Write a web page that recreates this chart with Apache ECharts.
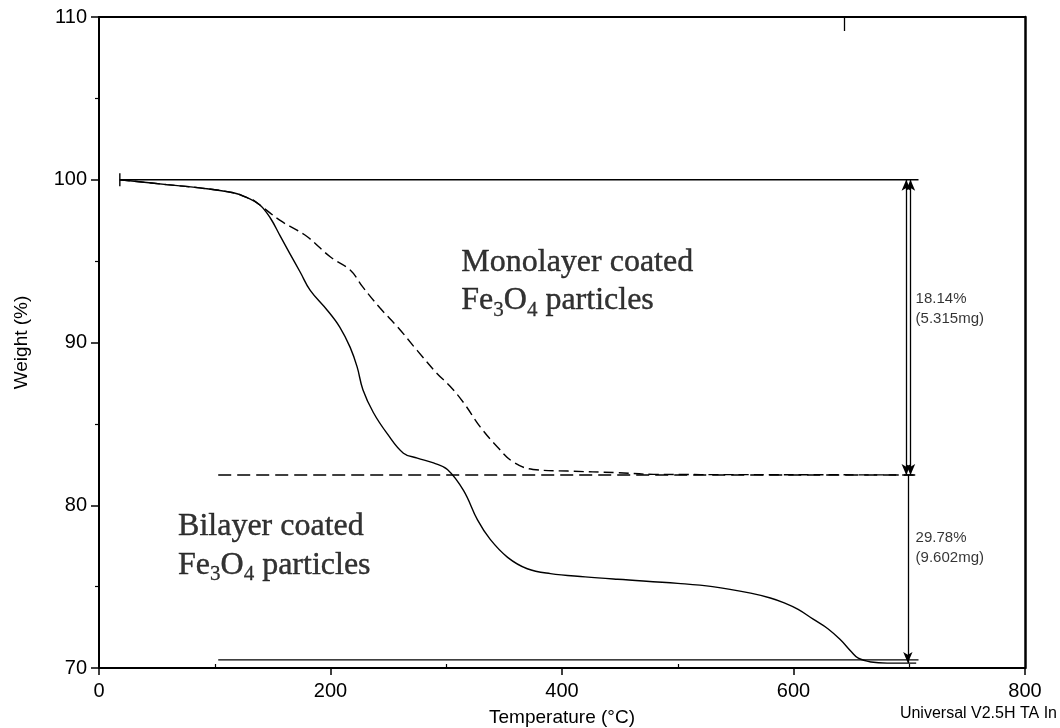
<!DOCTYPE html>
<html>
<head>
<meta charset="utf-8">
<script src="https://cdn.jsdelivr.net/npm/echarts@6/dist/echarts.min.js"></script>
<style>html,body{margin:0;padding:0;background:#fff;}#c{width:1060px;height:728px;}</style>
</head>
<body>
<div id="c"></div>
<script>
// Bilayer coated Fe3O4 (solid)
var bilayerT = [18, 58.5, 87, 116, 128, 139, 148, 156.5, 165, 174, 182.5, 197, 208, 217, 223, 228, 237, 249, 263, 275, 289, 301, 315, 327, 338, 353, 370, 390, 420, 448, 500, 530, 563, 580, 592, 604, 617, 630, 641, 650, 656, 667, 681, 706];
var bilayerW = [100, 99.7, 99.5, 99.2, 98.9, 98.45, 97.65, 96.55, 95.45, 94.3, 93.2, 92.0, 90.95, 89.7, 88.5, 87.1, 85.7, 84.4, 83.2, 82.9, 82.6, 82.2, 80.9, 79.1, 77.9, 76.8, 76.1, 75.8, 75.6, 75.45, 75.2, 75.0, 74.6, 74.3, 74.0, 73.6, 73.0, 72.4, 71.7, 71.0, 70.6, 70.37, 70.3, 70.3];
// Monolayer coated Fe3O4 (dashed)
var monoT = [18, 58.5, 87, 116, 128, 133, 156.5, 171, 180, 200, 217, 228, 243, 258, 275, 292, 303.5, 315, 329.5, 344, 358, 375, 405, 448, 479, 560, 640, 706];
var monoW = [100, 99.7, 99.5, 99.2, 98.9, 98.76, 97.5, 96.9, 96.5, 95.25, 94.45, 93.4, 92.1, 90.95, 89.5, 88.1, 87.3, 86.3, 84.8, 83.6, 82.65, 82.2, 82.1, 82.0, 81.9, 81.88, 81.87, 81.86];
// Step-analysis reference lines
var topLevel = 100, midLevel = 81.86, lowLevel = 70.5;
var refStart = 18, baseStart = 103, refEnd = 708;
var arrowX1 = 697.4, arrowX2 = 701.1, arrowX3 = 698.8, arrowBottom = 70.3;
var step1Text = ['18.14%', '(5.315mg)'];
var step2Text = ['29.78%', '(9.602mg)'];
var xTicks = [0, 200, 400, 600, 800];
var yTicks = [70, 80, 90, 100, 110];

function zip(a, b) { return a.map(function (v, i) { return [v, b[i]]; }); }

var chart = echarts.init(document.getElementById('c'), null, {renderer: 'canvas'});
var black = '#000';
var sans = '"Liberation Sans", Arial, sans-serif';
var serif = '"Liberation Serif", "Times New Roman", serif';

function textPoint(x, y, fmt, rich) {
  return {value: [x, y], label: {show: true, position: 'right', distance: 0, formatter: fmt, rich: rich, color: black}};
}
var serifRich = {
  a: {fontFamily: serif, fontSize: 32, lineHeight: 40, color: black, textBorderColor: black, textBorderWidth: 0.4},
  s: {fontFamily: serif, fontSize: 21, lineHeight: 21, verticalAlign: 'bottom', color: black, textBorderColor: black, textBorderWidth: 0.3}
};
var smallRich = {
  t: {fontFamily: sans, fontSize: 15, lineHeight: 20, color: black}
};

var option = {
  animation: false,
  backgroundColor: '#fff',
  grid: {left: 99, right: 35, top: 17, bottom: 60, containLabel: false, outerBoundsMode: 'none'},
  xAxis: [
    {type: 'value', position: 'bottom', min: xTicks[0], max: xTicks[xTicks.length - 1], interval: 200,
     axisLine: {show: true, lineStyle: {color: black, width: 2}},
     axisTick: {show: true, inside: false, length: 7, lineStyle: {color: black, width: 1.5}},
     axisLabel: {show: true, color: black, fontFamily: sans, fontSize: 20, margin: 13},
     splitLine: {show: false},
     name: 'Temperature (°C)', nameLocation: 'middle', nameGap: 40,
     nameTextStyle: {color: black, fontFamily: sans, fontSize: 19}},
    {type: 'value', position: 'bottom', min: 0, max: 800, interval: 100,
     axisLine: {show: false}, axisLabel: {show: false}, splitLine: {show: false},
     axisTick: {show: true, inside: true, length: 4, customValues: [100, 300, 500, 700], lineStyle: {color: black, width: 1.2}}},
    {type: 'value', position: 'top', min: 0, max: 800, interval: 100,
     axisLine: {show: true, onZero: false, lineStyle: {color: black, width: 2}},
     axisLabel: {show: false}, splitLine: {show: false},
     axisTick: {show: true, inside: true, length: 14, customValues: [644], lineStyle: {color: black, width: 1.3}}}
  ],
  yAxis: [
    {type: 'value', position: 'left', min: yTicks[0], max: yTicks[yTicks.length - 1], interval: 10,
     axisLine: {show: true, lineStyle: {color: black, width: 2}},
     axisTick: {show: true, inside: false, length: 8, lineStyle: {color: black, width: 1.5}},
     minorTick: {show: true, splitNumber: 2, length: 4, lineStyle: {color: black, width: 1.2}},
     axisLabel: {show: true, color: black, fontFamily: sans, fontSize: 20, margin: 12},
     splitLine: {show: false}, minorSplitLine: {show: false},
     name: 'Weight (%)', nameLocation: 'middle', nameGap: 68, nameRotate: 90,
     nameTextStyle: {color: black, fontFamily: sans, fontSize: 19}},
    {type: 'value', position: 'right', min: 70, max: 110, interval: 10,
     axisLine: {show: true, onZero: false, lineStyle: {color: black, width: 2.5}},
     axisTick: {show: false}, axisLabel: {show: false}, splitLine: {show: false}}
  ],
  series: [
    {type: 'line', name: 'Bilayer', data: zip(bilayerT, bilayerW), showSymbol: false, symbol: 'none', smooth: 0.4,
     lineStyle: {color: black, width: 1.4}},
    {type: 'line', name: 'Monolayer', data: zip(monoT, monoW), showSymbol: false, symbol: 'none', smooth: 0.4,
     lineStyle: {color: black, width: 1.4, type: [10, 5]}},
    {type: 'line', data: [[refStart, topLevel], [refEnd, topLevel]], symbol: 'none', lineStyle: {color: black, width: 1.4}},
    {type: 'line', data: [[refStart, topLevel - 0.4], [refStart, topLevel + 0.4]], symbol: 'none', lineStyle: {color: black, width: 1.4}},
    {type: 'line', data: [[baseStart, midLevel], [refEnd, midLevel]], symbol: 'none', lineStyle: {color: black, width: 1.4, type: [13, 6]}},
    {type: 'line', data: [[baseStart, lowLevel], [refEnd, lowLevel]], symbol: 'none', lineStyle: {color: black, width: 1.4}},
    {type: 'line', data: [], symbol: 'none',
     markLine: {silent: true, symbol: ['arrow', 'arrow'], symbolSize: [7, 11], label: {show: false},
       lineStyle: {color: black, width: 1.3, type: 'solid'},
       data: [
         [{coord: [arrowX1, topLevel]}, {coord: [arrowX1, midLevel]}],
         [{coord: [arrowX2, topLevel]}, {coord: [arrowX2, midLevel]}],
         [{coord: [arrowX3, midLevel], symbol: 'none'}, {coord: [arrowX3, arrowBottom]}]
       ]}},
    {type: 'scatter', symbolSize: 0, silent: true,
     data: [
       textPoint(313, 94.9, '{a|Monolayer coated}', serifRich),
       textPoint(313, 92.55, '{a|Fe}{s|3}{a|O}{s|4}{a| particles}', serifRich),
       textPoint(68.3, 78.67, '{a|Bilayer coated}', serifRich),
       textPoint(68.3, 76.3, '{a|Fe}{s|3}{a|O}{s|4}{a| particles}', serifRich),
       textPoint(705.5, 92.7, '{t|' + step1Text[0] + '}', smallRich),
       textPoint(705.5, 91.47, '{t|' + step1Text[1] + '}', smallRich),
       textPoint(705.5, 78.0, '{t|' + step2Text[0] + '}', smallRich),
       textPoint(705.5, 76.77, '{t|' + step2Text[1] + '}', smallRich)
     ]}
  ],
  graphic: [
    {type: 'text', right: 3, top: 706, style: {text: 'Universal V2.5H TA In', font: '16px "Liberation Sans", Arial, sans-serif', fill: black}}
  ]
};
chart.setOption(option);
</script>
</body>
</html>
